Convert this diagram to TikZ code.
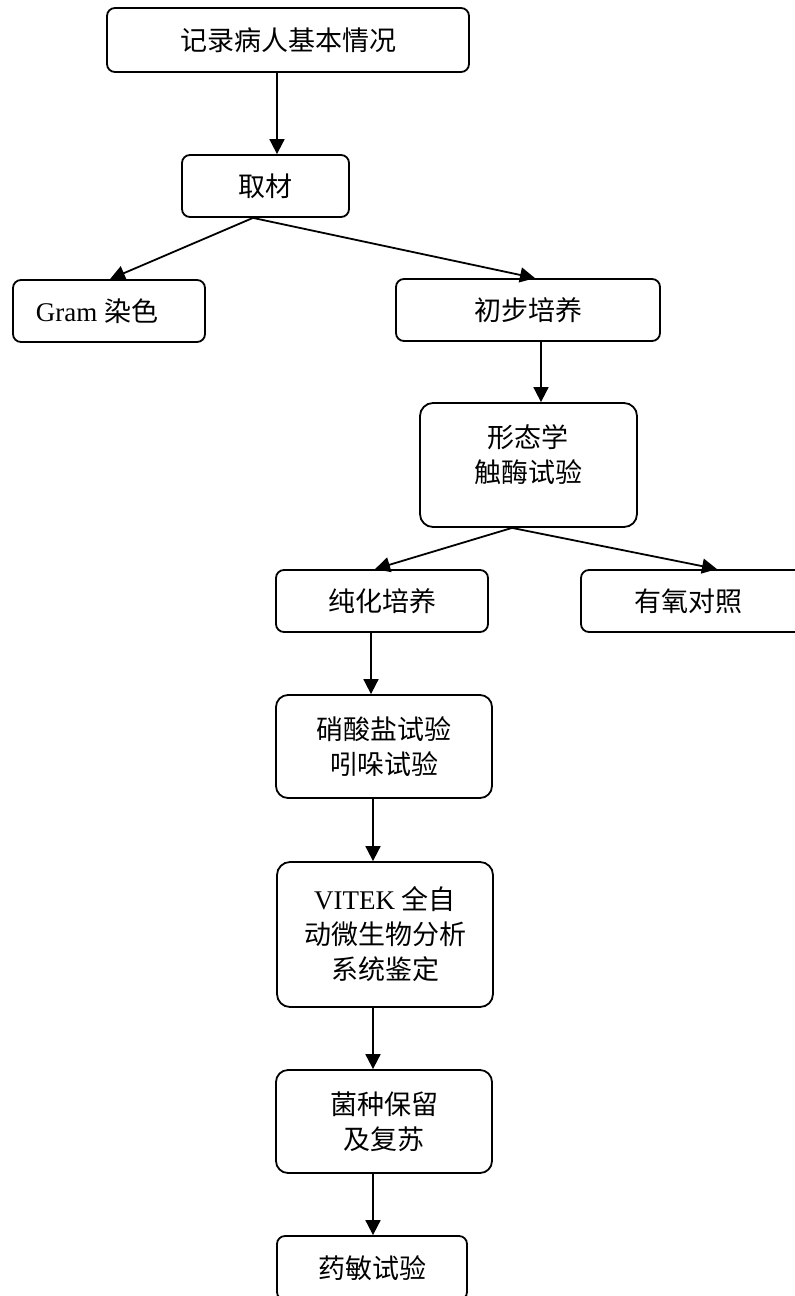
\documentclass[tikz,border=0pt]{standalone}
\usepackage{fontspec}
\setmainfont{Liberation Serif}
\newfontfamily\cjk{Noto Sans CJK SC}
\usetikzlibrary{arrows.meta}
\begin{document}
\begin{tikzpicture}[x=0.5pt,y=-0.5pt,
  box/.style={draw,line width=0.9pt,rounded corners=#1,inner sep=0pt,align=center,
    font=\fontsize{13.5}{17.5}\selectfont},
  box/.default=4pt,
  txt/.style={inner sep=0pt,align=center,font=\fontsize{13.5}{17.5}\selectfont},
  arr/.style={line width=0.9pt,-{Triangle[length=7.5pt,width=7.5pt]}}]
\useasboundingbox (0,0) rectangle (795,1296);
\clip (0,0) rectangle (795,1296);
% boxes
\node[box,minimum width=181pt,minimum height=32pt] (b1) at (288,40) {\cjk 记录病人基本情况};
\node[box,minimum width=83.5pt,minimum height=31pt] (b2) at (265.5,186) {\cjk 取材};
\node[box,minimum width=96pt,minimum height=31pt] (b3) at (109,311) {};
\node[txt] (b3t) at (97,311) {Gram {\cjk 染色}};
\node[box,minimum width=132pt,minimum height=31pt] (b4) at (528,310) {\cjk 初步培养};
\node[box=6.5pt,minimum width=108.5pt,minimum height=62pt] (b5) at (528.5,465) {};
\node[txt] (b5t) at (528,455) {\cjk 形态学\\\cjk 触酶试验};
\node[box,minimum width=130pt,minimum height=31pt] (b7) at (711,601) {};
\node[txt] (b7t) at (688,601) {\cjk 有氧对照};
\node[box,minimum width=106pt,minimum height=31pt] (b6) at (382,601) {\cjk 纯化培养};
\node[box=6pt,minimum width=108pt,minimum height=51.5pt] (b8) at (384,746.5) {\cjk 硝酸盐试验\\\cjk 吲哚试验};
\node[box=6.5pt,minimum width=108pt,minimum height=72.5pt] (b9) at (385,934.5) {VITEK {\cjk 全自}\\\cjk 动微生物分析\\\cjk 系统鉴定};
\node[box=6pt,minimum width=108pt,minimum height=51.5pt] (b10) at (384,1121.5) {\cjk 菌种保留\\\cjk 及复苏};
\node[box,minimum width=95pt,minimum height=32pt] (b11) at (372,1268) {\cjk 药敏试验};
% connector x positions
\coordinate (x12) at (277,0);
\coordinate (x2) at (253,0);
\coordinate (x3) at (110,0);
\coordinate (x4) at (535,0);
\coordinate (x45) at (541,0);
\coordinate (x5) at (512,0);
\coordinate (x6) at (375,0);
\coordinate (x7) at (717,0);
\coordinate (x67) at (371,0);
\coordinate (xv) at (373,0);
% connectors
\draw[arr] (b1.south -| x12) -- (b2.north -| x12);
\draw[arr] (b2.south -| x2) -- (b3.north -| x3);
\draw[arr] (b2.south -| x2) -- (b4.north -| x4);
\draw[arr] (b4.south -| x45) -- (b5.north -| x45);
\draw[arr] (b5.south -| x5) -- (b6.north -| x6);
\draw[arr] (b5.south -| x5) -- (b7.north -| x7);
\draw[arr] (b6.south -| x67) -- (b8.north -| x67);
\draw[arr] (b8.south -| xv) -- (b9.north -| xv);
\draw[arr] (b9.south -| xv) -- (b10.north -| xv);
\draw[arr] (b10.south -| xv) -- (b11.north -| xv);
\end{tikzpicture}
\end{document}
